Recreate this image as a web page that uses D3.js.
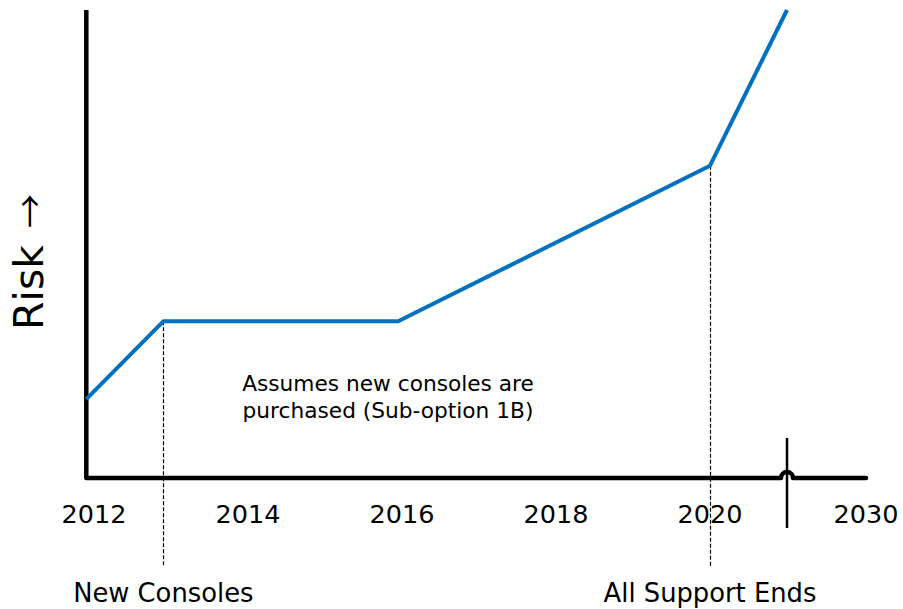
<!DOCTYPE html>
<html>
<head>
<meta charset="utf-8">
<script src="https://cdn.jsdelivr.net/npm/d3@7"></script>
<style>
  html, body { margin: 0; padding: 0; background: #fff; }
  text { font-family: Verdana, "DejaVu Sans", sans-serif; fill: #000; }
</style>
</head>
<body>
<svg id="chart" width="903" height="609"></svg>
<script>
// ---- data ----
const years = [2011.9, 2012.9, 2015.95, 2020, 2021];
const risk = [1, 2, 2, 4, 6];
const tickYears = [2012, 2014, 2016, 2018, 2020, 2030];
const tickLabels = ["2012", "2014", "2016", "2018", "2020", "2030"];
const markerYears = [2012.9, 2020];
const markerLabels = ["New Consoles", "All Support Ends"];
const breakYear = 2021;
const annotation = ["Assumes new consoles are", "purchased (Sub-option 1B)"];
const yLabelWord = "Risk";
const yLabelArrow = "\u2192";

// ---- scales ----
const x = d3.scaleLinear().domain([2012, 2021, 2030]).range([94, 787, 866]);
const y = d3.scaleLinear().domain([0, 6]).range([477, 10]);

const svg = d3.select("#chart");
const x0 = x(years[0]);
const axisY = y(0) + 1;

// dashed marker lines
markerYears.forEach((yr, i) => {
  const v = risk[years.indexOf(yr)];
  const xp = Math.round(x(yr)) + 0.5;
  svg.append("line")
    .attr("x1", xp).attr("x2", xp)
    .attr("y1", y(v)).attr("y2", 567)
    .attr("stroke", "#000").attr("stroke-width", 1.2)
    .attr("stroke-dasharray", "4,2");
  svg.append("text")
    .attr("x", x(yr)).attr("y", 602)
    .attr("text-anchor", "middle")
    .attr("font-size", 25.8)
    .text(markerLabels[i]);
});

// y axis
svg.append("line")
  .attr("x1", x0).attr("x2", x0)
  .attr("y1", y(6)).attr("y2", axisY)
  .attr("stroke", "#000").attr("stroke-width", 4.5);

// x axis with hump at break
const bx = x(breakYear);
const r = 6;
svg.append("path")
  .attr("d", `M${x0},${axisY} H${bx - r} A${r},${r} 0 0 1 ${bx + r},${axisY} H${x(2030)}`)
  .attr("fill", "none").attr("stroke", "#000").attr("stroke-width", 4.5)
  .attr("stroke-linecap", "round").attr("stroke-linejoin", "round");

// break line
svg.append("line")
  .attr("x1", bx).attr("x2", bx)
  .attr("y1", 438).attr("y2", 528)
  .attr("stroke", "#000").attr("stroke-width", 2.5);

// tick labels
svg.selectAll("text.tick").data(tickYears).enter().append("text")
  .attr("class", "tick")
  .attr("x", d => x(d)).attr("y", 523)
  .attr("text-anchor", "middle")
  .attr("font-size", 25.5)
  .text((d, i) => tickLabels[i]);

// risk line
const line = d3.line().x((d, i) => x(years[i])).y(d => y(d));
svg.append("path")
  .datum(risk)
  .attr("d", line)
  .attr("fill", "none")
  .attr("stroke", "#0070C0")
  .attr("stroke-width", 4)
  .attr("stroke-linejoin", "round");

// annotation
const ann = svg.append("text")
  .attr("text-anchor", "middle")
  .attr("font-size", 21.7);
annotation.forEach((t, i) => {
  ann.append("tspan").attr("x", 388).attr("y", 391 + i * 27).text(t);
});

// y label
const yl = svg.append("text")
  .attr("transform", "translate(43,330) rotate(-90)")
  .attr("text-anchor", "start")
  .attr("font-size", 41);
yl.append("tspan").text(yLabelWord + " ");
yl.append("tspan")
  .attr("font-family", "'Noto Sans CJK JP', 'Noto Sans CJK SC', sans-serif")
  .attr("font-size", 34)
  .attr("dx", 4)
  .text(yLabelArrow);
</script>
</body>
</html>
